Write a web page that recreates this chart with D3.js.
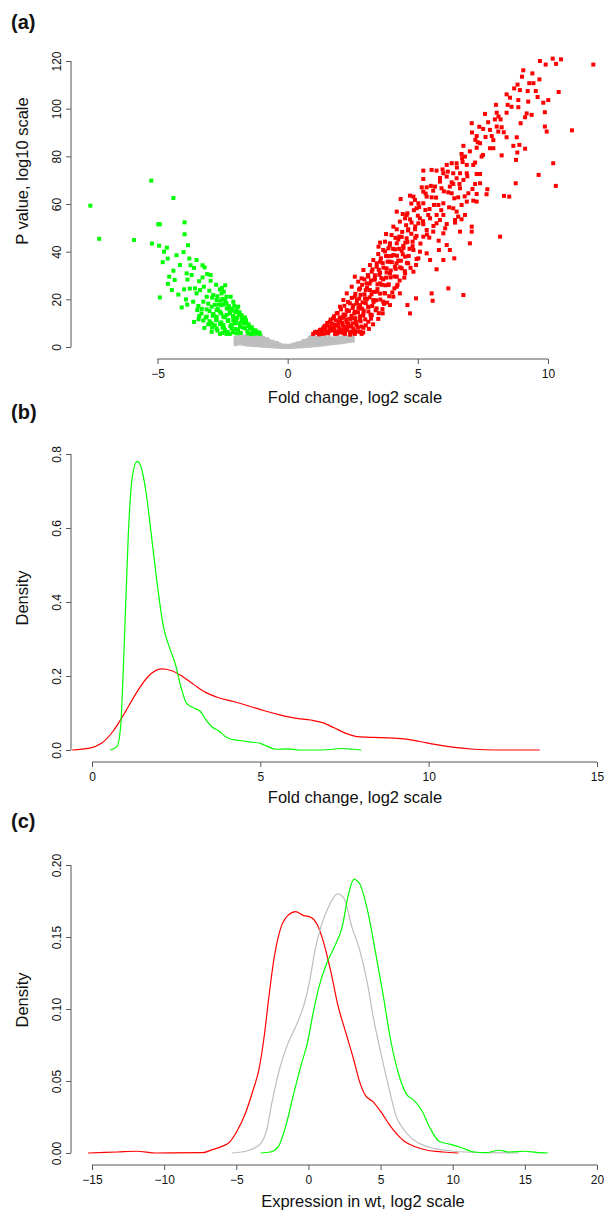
<!DOCTYPE html>
<html>
<head>
<meta charset="utf-8">
<script src="https://cdn.jsdelivr.net/npm/d3@7"></script>
<style>
  body { margin: 0; background: #fff; }
  svg text { font-family: "Liberation Sans", Arial, Helvetica, sans-serif; fill: #111; }
</style>
</head>
<body>
<div id="chart"></div>
<script>
// ---- panel (a): volcano plot, [log2 fold change, -log10 p] ----
const upPoints = [
  [11.74,118.5],[9.69,120.0],[9.91,118.5],[10.18,121],[10.31,118.8],[10.5,120.7],[9.05,116.1],[8.83,110.1],[8.92,107.8],
  [9.28,110.7],[9.44,110.7],[9.67,112.3],[9.22,107.4],[9.53,107.4],[10.41,107],[8.41,106],[8.54,104.6],[8.86,103.6],
  [9.24,102.96],[9.82,102.5],[10.01,103.6],[9.88,98.5],[8.0,101.6],[8.45,101.6],[8.86,100.6],[9.18,98],[9.12,96.4],
  [9.37,97.4],[7.58,97.8],[8.03,98.3],[8.41,98.3],[8.95,93.9],[7.96,95.5],[8.18,95.5],[7.07,93.9],[7.36,92.4],[7.51,91.5],
  [7.77,91.1],[8.22,92.2],[8.03,92.5],[7.08,90],[7.26,88.5],[7.84,88.5],[8.09,90.4],[9.88,92.5],[9.95,90.4],[10.92,90.9],
  [8.8,88],[8.41,88],[7.21,86.9],[7.39,85.5],[8.9,84.8],[8.67,84.4],[6.75,84.4],[7.26,83.6],[7.77,83.4],[7.9,83.4],
  [9.12,83.2],[8.82,81.6],[8.22,80.4],[6.68,81],[6.81,79.9],[7.45,79.9],[8.77,78.5],[10.2,77.1],[6.11,76.4],[6.3,77.1],
  [6.49,77.1],[6.72,77.6],[6.88,76.4],[7.13,76.4],[5.95,74.5],[5.21,74],[5.53,74.3],[5.72,74],[5.98,72.9],[6.36,72.9],
  [6.62,72.9],[6.88,72.9],[7.26,72.6],[7.39,72.6],[9.64,72.2],[6.11,71.5],[6.49,70.8],[6.75,70.1],[5.21,70.5],[5.85,69.4],
  [6.36,68.4],[7.2,68.4],[7.39,68.7],[8.76,68.7],[10.3,67.6],[5.15,67],[5.34,67],[5.66,67.3],[5.91,66.6],[6.23,67.3],
  [6.62,66.6],[7.67,66.2],[5.21,65.2],[5.59,65.6],[6.17,64.9],[6.3,64.5],[6.94,64.5],[7.26,64.2],[7.64,64.1],[8.31,63.4],
  [8.51,63.1],[4.7,63.5],[4.83,63.1],[5.34,63.1],[5.53,62.8],[4.34,62.1],[6.55,62.8],[4.89,61.7],[5.02,60.3],[5.21,60.3],
  [5.98,60.3],[6.88,61],[7.13,61.4],[7.26,61],[5.62,59.6],[5.79,59.6],[6.68,59.6],[4.95,58.2],[5.29,57.5],[6.36,58.2],
  [6.49,56.8],[4.19,56.8],[4.42,55.8],[4.57,55.4],[5.4,55.4],[5.72,55.4],[5.98,55.4],[6.81,55.4],[4.51,54],[5.08,54],
  [5.47,54],[5.85,53.3],[6.43,53.3],[6.68,53.6],[4.31,52.6],[4.76,52.2],[5.02,51.9],[5.21,51.5],[5.72,51.9],[6.11,51.6],
  [6.43,52.2],[7.07,50.5],[4.06,50.5],[4.19,49.4],[4.63,49.4],[4.89,49.4],[5.34,49.1],[5.59,48.4],[5.98,47.7],[6.62,48.4],
  [7.07,48.4],[3.78,47.4],[3.99,47],[4.29,46.3],[4.57,45.6],[4.95,46.6],[5.21,46.3],[5.44,45.9],[8.16,46.3],[3.55,43.8],
  [3.74,44.2],[3.93,43.5],[4.19,43.5],[4.44,42.4],[4.8,44.2],[6.11,42.8],[7.0,43.5],[3.49,42.1],[3.67,40.7],[3.87,41.4],
  [4.12,41],[4.38,40.4],[4.83,40.7],[5.08,40],[5.34,39.3],[5.81,40.7],[6.23,40.7],[3.48,39],[3.78,38.2],[3.99,38.2],
  [4.51,37.9],[5.02,37.2],[5.47,36.5],[5.98,36.5],[6.4,37.2],[3.29,36.5],[3.55,35.8],[3.93,35.8],[4.25,36.2],[4.63,35.1],
  [4.93,34.4],[3.16,34.4],[3.42,33.7],[3.8,33],[4.12,33.7],[4.38,33],[5.72,32.6],[2.91,32.3],[3.23,31.6],[3.55,31.2],
  [3.93,30.9],[4.19,29.5],[4.51,30.9],[4.83,31.6],[2.58,29.5],[2.84,28.8],[3.1,29.5],[3.35,28.8],[3.67,28.4],[2.71,27.4],
  [3.03,26.7],[3.55,26.7],[3.87,26],[4.19,25.3],[6.17,24.6],[2.46,25.3],[2.78,24.6],[3.16,23.9],[3.42,23.2],[3.74,22.5],
  [4.06,21.1],[4.31,22.5],[4.93,20.4],[5.53,22.5],[5.57,19.4],[6.75,21.8],[2.27,22.5],[2.58,21.1],[2.97,20.4],[3.29,19.7],
  [3.67,19],[3.93,17.6],[4.6,17.6],[2.14,19.7],[2.39,18.3],[2.78,17.6],[3.1,16.9],[3.42,16.2],[3.65,14.1],[4.7,14.1],
  [2.01,16.9],[2.27,15.5],[2.58,14.8],[2.91,14.1],[3.23,13.4],[1.88,14.1],[2.14,12.7],[2.46,12],[2.78,11.3],[3.1,10.6],
  [1.75,12],[2.01,10.6],[2.33,9.9],[2.65,9.2],[2.91,8.1],[1.62,10.6],[1.88,9.2],[2.2,8.5],[2.52,7.8],[2.78,6.4],[2.84,5.5],
  [1.5,9.2],[1.75,8.1],[2.07,7.1],[2.39,6.4],[1.37,8.1],[1.62,7.1],[1.94,6.4],[1.24,7.1],[1.5,6],[1.82,5.5],[2.2,5.5],
  [2.58,5.5],[0.98,5.5],[1.11,6.4],[1.3,5.5],
  [1.05,6.2],[1.2,5.3],[1.35,6.6],[1.45,7.5],[1.55,5.8],[1.6,8.6],[1.7,6.9],[1.7,9.8],[1.8,7.8],[1.85,11.2],[1.9,5.6],
  [1.95,8.9],[2.0,12.4],[2.05,6.1],[2.1,10.2],[2.15,13.6],[2.2,7.4],[2.25,11.6],[2.3,15.1],[2.35,8.6],[2.4,5.2],[2.45,13.1],
  [2.5,16.4],[2.5,9.9],[2.55,6.9],[2.6,12.1],[2.65,18.2],[2.7,14.6],[2.7,8.2],[2.75,20.3],[2.8,10.8],[2.85,16.1],[2.9,6.1],
  [2.9,13.2],[2.95,22.1],[3.0,18.4],[3.0,9.1],[3.05,24.9],[3.1,14.9],[3.15,20.8],[3.2,11.9],[3.2,27.9],[3.25,17.2],
  [3.3,23.1],[3.35,30.1],[3.4,19.6],[3.45,26.3],[3.5,14.2],[3.5,32.4],[3.55,22.4],[3.6,28.9],[3.65,35.2],[3.7,18.1],
  [3.75,25.9],[3.8,31.3],[3.85,38.1],[3.9,21.3],[3.95,29.2],[4.0,35.6],[4.05,41.2],[4.1,24.6],[4.15,32.8],[4.2,38.3],
  [4.25,45.1],[4.3,27.9],[4.35,36.2],[4.4,48.3],[4.45,41.6],[4.5,31.8],[4.55,51.1],[4.6,44.1],[4.65,38.2],[4.7,53.6],
  [4.75,47.5],[4.8,42.3],[4.85,57.4],[4.9,50.6],[4.95,36.9],[5.0,55.1],
  [1.15,5.9],[1.28,7.3],[1.42,8.8],[1.4,5.6],[1.52,10.1],[1.58,6.5],[1.65,11.5],[1.68,7.9],[1.78,12.9],[1.8,9.3],[1.83,6.3],
  [1.92,14.3],[1.95,10.8],[1.98,7.6],[2.05,15.8],[2.08,12.1],[2.12,8.9],[2.15,5.9],[2.18,17.3],[2.22,13.5],[2.26,10.4],
  [2.28,7.1],[2.32,18.9],[2.36,15.2],[2.4,11.8],[2.44,8.7],[2.46,20.6],[2.5,6.1],[2.52,17.5],[2.56,14.1],[2.6,22.3],
  [2.62,10.5],[2.66,19.6],[2.68,6.5],[2.72,16.4],[2.74,24.1],[2.78,12.9],[2.8,21.9],[2.84,8.6],[2.86,26.1],[2.88,18.7],
  [2.92,15.3],[2.95,28.4],[2.98,11.6],[3.0,23.9],[3.04,20.1],[3.08,30.2],[3.1,16.8],[3.12,7.6],[3.15,26.6],[3.18,13.6],
  [3.22,22.1],[3.26,32.6],[3.28,9.5],[3.3,18.9],[3.34,28.2],[3.38,15.4],[3.42,35.1],[3.45,24.3],[3.48,11.8],[3.52,30.3],
  [3.56,19.9],[3.58,37.2],[3.62,26.1],[3.64,15.9],[3.68,33.3],[3.72,22.6],[3.74,40.1],[3.78,29.1],[3.82,18.6],[3.84,35.8],
  [3.88,26.3],[3.92,42.6],[3.96,32.1],[4.02,22.9],[4.06,38.6],[4.1,29.6],[4.14,45.8],[4.18,35.1],[4.22,26.1],[4.28,41.2],
  [4.32,33.4],[4.38,46.2],[4.42,38.9],[4.48,29.1],[4.52,43.8],[4.58,35.3],[4.62,48.9],[4.68,41.2],[4.72,33.2],
  [4.6,56.1],[4.75,60.2],[4.9,45.8],[5.05,58.7],[5.1,43.4],[5.2,52.8],[5.3,64.4],[5.35,47.2],[5.45,57.9],[5.5,67.6],
  [5.6,50.8],[5.7,62.7],[5.8,44.6],[5.85,70.9],[5.9,57.4],[6.0,65.3],[6.05,49.8],[6.15,73.6],[6.2,58.6],[6.3,69.1],
  [6.4,62.4],[6.5,75.3],[6.55,54.7],[6.6,68.4],[6.7,79.2],[6.8,63.2],[6.9,71.6],[7.0,82.1],[7.1,66.3],[7.2,77.4],
  [7.3,85.9],[7.5,80.6],[7.6,88.1],[7.7,94.3],[7.9,86.8],[8.1,96.7],[8.3,90.1],[8.6,100.8],[8.7,108.5],[9.0,113.4],
  [9.4,114.8],[9.6,104.9]
]
const downPoints = [
  [-7.58,59.3],[-7.24,45.4],[-5.9,44.9],[-5.24,69.8],[-4.39,62.5],[-4.97,51.5],[-4.91,51.5],[-3.96,52.3],[-3.96,47.3],
  [-5.21,43.4],[-4.94,42.5],[-4.64,41.7],[-4.75,40],[-4.61,37.1],[-3.83,42.7],[-4.27,38.5],[-4.14,34.4],[-3.78,37.1],
  [-3.73,34.3],[-3.5,36.5],[-3.27,34.3],[-3.19,33.4],[-4.39,32],[-4.55,29.5],[-4.34,28.1],[-3.88,30.9],[-3.69,30.2],
  [-3.09,30.6],[-2.96,30.2],[-4.45,23.9],[-3.98,24.2],[-3.76,24.5],[-3.56,24.6],[-3.27,29.2],[-2.96,27.8],[-4.91,20.8],
  [-4.07,16.6],[-3.91,20],[-3.86,17.8],[-3.5,22.5],[-3.37,23.9],[-3.22,25.3],[-3.01,23.6],[-2.6,24.2],[-2.52,24.8],
  [-2.4,25.9],[-2.19,21.1],[-3.63,19],[-3.43,17.2],[-3.24,19],[-3.11,21.1],[-2.86,21.8],[-2.73,19.7],[-2.54,22.5],
  [-2.35,21.1],[-3.47,15.5],[-3.31,14.1],[-3.11,15.8],[-2.92,16.9],[-2.73,15.5],[-2.54,17.6],[-2.35,18.3],[-2.09,19],
  [-1.9,16.9],[-3.42,11.6],[-3.24,11.1],[-2.92,9.9],[-2.73,11.3],[-2.47,12.7],[-2.22,14.1],[-1.96,15.5],[-1.77,13.4],
  [-1.64,12.4],[-2.92,6.4],[-2.73,7.8],[-2.6,5.5],[-2.41,7.1],[-2.35,5.5],[-2.15,7.8],[-2.02,9.9],[-1.83,8.5],[-1.58,9.9],
  [-1.45,7.8],[-1.32,6.4],[-1.19,5.7],[-1.07,5.5],[-1.51,5.7],[-1.96,5.7],[-2.22,5.5],[-2.73,12.7],[-3.11,12.7],[-2.6,14.8],
  [-2.28,16.2],[-2.09,11.3],[-1.77,11.3],[-2.28,11.3],[-2.47,9.2],[-1.64,7.8],
  [-2.05,17.4],[-1.85,14.6],[-2.15,15.2],[-2.4,19.6],[-2.65,17.8],[-2.85,13.8],[-2.55,10.3],[-2.2,8.8],[-1.95,12.3],
  [-1.7,10.1],[-1.5,8.7],[-1.35,7.2],[-1.2,6.5],[-1.4,5.4],[-1.9,7.0],[-2.1,6.2],[-2.5,8.2],[-2.8,9.1],[-3.0,10.8],
  [-2.35,13.4],[-2.0,10.6],[-1.6,11.2],[-3.05,18.2],[-2.9,20.7],
  [-1.1,6.1],[-1.25,7.0],[-1.38,8.3],[-1.5,9.5],[-1.62,10.8],[-1.75,12.0],[-1.88,13.3],[-2.0,14.6],[-2.12,16.0],[-2.25,17.1],
  [-2.38,18.3],[-2.5,20.2],[-1.3,5.6],[-1.55,6.6],[-1.7,8.2],[-1.85,9.9],[-1.98,11.5],[-2.1,13.0],[-2.22,14.6],[-2.34,16.2],
  [-2.46,17.9],[-2.58,19.5],[-2.7,21.3],[-1.8,5.9],[-2.0,7.6],[-2.15,9.4],[-2.3,10.9],[-2.42,12.5],[-2.55,14.1],[-2.68,15.9],
  [-2.8,17.7],[-2.3,6.3],[-2.45,8.0],[-2.6,9.7],[-2.75,11.4],[-2.88,13.1],[-3.0,15.0],[-2.5,5.9],[-2.7,6.9],[-2.9,8.2],
  [-3.05,9.5],[-3.15,12.4],[-3.3,16.0],[-3.4,13.0],[-3.6,10.5],[-3.2,8.0],[-2.45,23.2],[-2.75,26.1],[-3.4,27.6],[-3.6,33.2],
  [-4.0,39.8],[-3.85,28.3],[-4.2,22.0],[-4.6,26.5],[-4.8,35.6]
]
const nsPoints = [
  [-2.0,1.2],[-2.0,2.5],[-2.0,3.8],[-1.85,1.5],[-1.85,3.0],[-1.85,4.3],[-1.7,1.3],[-1.7,2.8],[-1.7,4.2],[-1.55,1.0],
  [-1.55,2.4],[-1.55,3.9],[-1.4,0.9],[-1.4,2.2],[-1.4,3.6],[-1.4,4.6],[-1.25,0.8],[-1.25,2.0],[-1.25,3.3],[-1.25,4.5],
  [-1.1,0.7],[-1.1,1.8],[-1.1,3.0],[-1.1,4.3],[-0.95,0.5],[-0.95,1.6],[-0.95,2.7],[-0.95,3.8],[-0.8,0.4],[-0.8,1.4],
  [-0.8,2.4],[-0.8,3.3],[-0.65,0.3],[-0.65,1.1],[-0.65,2.0],[-0.5,0.2],[-0.5,0.9],[-0.5,1.6],[-0.35,0.1],[-0.35,0.6],
  [-0.35,1.1],[-0.2,0.0],[-0.2,0.4],[-0.05,0.0],[-0.05,0.3],[0.1,0.0],[0.1,0.4],[0.25,0.1],[0.25,0.6],[0.25,1.0],
  [0.4,0.2],[0.4,0.8],[0.4,1.5],[0.55,0.3],[0.55,1.1],[0.55,1.9],[0.7,0.4],[0.7,1.3],[0.7,2.3],[0.85,0.5],[0.85,1.6],
  [0.85,2.8],[0.85,3.8],[1.0,0.7],[1.0,1.8],[1.0,3.1],[1.0,4.3],[1.15,0.8],[1.15,2.0],[1.15,3.4],[1.3,1.0],[1.3,2.2],
  [1.3,3.6],[1.45,1.2],[1.45,2.5],[1.45,3.9],[1.6,1.4],[1.6,2.8],[1.6,4.1],[1.75,1.6],[1.75,3.0],[1.9,1.8],[1.9,3.2],
  [2.05,2.0],[2.05,3.4],[2.2,2.2],[2.2,3.6],[2.35,2.5],[2.35,3.8],[2.5,2.7],[2.5,3.9],
  [-1.92,1.9],[-1.92,3.2],[-1.78,2.1],[-1.78,3.6],[-1.62,1.8],[-1.62,3.3],[-1.62,4.5],[-1.48,1.6],[-1.48,2.9],[-1.48,4.2],
  [-1.32,1.4],[-1.32,2.7],[-1.32,4.0],[-1.18,1.2],[-1.18,2.4],[-1.18,3.7],[-1.02,1.1],[-1.02,2.2],[-1.02,3.3],[-1.02,4.5],
  [-0.88,1.0],[-0.88,2.0],[-0.88,3.0],[-0.72,0.8],[-0.72,1.7],[-0.72,2.6],[-0.58,0.6],[-0.58,1.4],[-0.58,2.2],[-0.42,0.4],
  [-0.42,1.0],[-0.42,1.7],[-0.28,0.3],[-0.28,0.8],[-0.12,0.2],[-0.12,0.6],[0.02,0.1],[0.02,0.5],[0.17,0.3],[0.17,0.7],
  [0.32,0.4],[0.32,1.2],[0.47,0.6],[0.47,1.5],[0.62,0.7],[0.62,1.6],[0.62,2.5],[0.77,0.9],[0.77,1.9],[0.77,2.9],[0.92,1.1],
  [0.92,2.2],[0.92,3.3],[0.92,4.4],[1.07,1.3],[1.07,2.5],[1.07,3.7],[1.22,1.4],[1.22,2.7],[1.22,4.0],[1.37,1.6],[1.37,2.9],
  [1.37,4.2],[1.52,1.8],[1.52,3.2],[1.67,2.0],[1.67,3.5],[1.82,2.2],[1.82,3.7],[1.97,2.4],[1.97,3.9],[2.12,2.6],[2.12,4.0],
  [2.27,2.8],[2.27,4.1],[2.42,3.0],[2.42,4.2]
]
const aXTicks = [-5, 0, 5, 10]
const aYTicks = [0, 20, 40, 60, 80, 100, 120]

// ---- panel (b): density of |fold change| ----
const bDown = [[0.54,0],[0.74,0.009],[0.85,0.063],[0.97,0.316],[1.08,0.586],[1.2,0.74],[1.34,0.78],[1.45,0.767],[1.6,0.70],
  [1.78,0.568],[1.95,0.44],[2.12,0.334],[2.29,0.28],[2.47,0.234],[2.64,0.171],[2.81,0.126],[3.04,0.113],[3.22,0.104],
  [3.39,0.081],[3.56,0.063],[3.79,0.05],[3.97,0.036],[4.14,0.029],[4.43,0.025],[4.77,0.021],[5.0,0.018],[5.23,0.009],
  [5.46,0.002],[5.81,0.003],[6.16,0.0],[6.85,0],[7.42,0.004],[7.77,0.002],[8.0,0]]
const bUp = [[-0.59,0],[-0.07,0.005],[0.28,0.018],[0.62,0.05],[0.97,0.1],[1.31,0.153],[1.66,0.198],[2.06,0.219],[2.35,0.215],
  [2.70,0.198],[3.04,0.176],[3.39,0.155],[3.74,0.142],[4.2,0.131],[4.66,0.119],[5.12,0.106],[5.58,0.095],[6.04,0.086],
  [6.5,0.081],[6.85,0.074],[7.19,0.06],[7.54,0.045],[7.89,0.036],[8.35,0.034],[8.81,0.033],[9.27,0.03],[9.73,0.023],
  [10.19,0.015],[10.77,0.007],[11.34,0.002],[12.04,0],[13.3,0]]
const bXTicks = [0, 5, 10, 15]
const bYTicks = [0.0, 0.2, 0.4, 0.6, 0.8]

// ---- panel (c): density of expression in wt ----
const cUp = [[-15.27,0],[-13.25,0.0007],[-11.9,0.0012],[-10.56,0],[-7.34,0.0002],[-6.67,0.0023],[-6.0,0.0046],[-5.46,0.0076],
  [-4.92,0.0158],[-4.38,0.0273],[-3.84,0.0436],[-3.44,0.0575],[-3.04,0.083],[-2.77,0.106],[-2.37,0.136],[-1.96,0.155],
  [-1.42,0.165],[-0.89,0.1676],[-0.35,0.165],[0.19,0.1636],[0.59,0.159],[1.0,0.148],[1.53,0.127],[2.07,0.1015],[2.61,0.083],
  [3.15,0.0644],[3.55,0.0494],[3.95,0.040],[4.49,0.0355],[5.03,0.0285],[5.56,0.0204],[6.1,0.0134],[6.64,0.0081],
  [7.45,0.0042],[8.25,0.0019],[9.33,0.0007],[10.4,0]]
const cNs = [[-5.32,0],[-4.65,0.0007],[-3.84,0.003],[-3.31,0.0065],[-2.9,0.0158],[-2.5,0.0366],[-1.96,0.0598],[-1.42,0.076],
  [-0.89,0.0876],[-0.35,0.1015],[0.05,0.1177],[0.46,0.141],[0.86,0.157],[1.4,0.171],[2.02,0.180],[2.47,0.1768],[3.01,0.157],
  [3.55,0.141],[4.09,0.1177],[4.49,0.0946],[5.03,0.069],[5.56,0.0459],[6.1,0.025],[6.64,0.0158],[7.18,0.01],[7.98,0.0053],
  [8.79,0.003],[9.87,0.0014],[10.94,0.0007],[12.28,0.0002],[14.57,0]]
const cDown = [[-3.31,0],[-2.63,0.0007],[-2.1,0.0042],[-1.56,0.0192],[-1.02,0.0412],[-0.48,0.0621],[-0.08,0.076],[0.32,0.0969],
  [0.73,0.1154],[1.26,0.1316],[1.8,0.1432],[2.34,0.157],[2.74,0.178],[3.15,0.190],[3.55,0.187],[4.09,0.1687],[4.62,0.141],
  [5.16,0.1108],[5.7,0.0783],[6.24,0.0552],[6.77,0.0412],[7.31,0.0366],[7.85,0.0297],[8.39,0.0181],[9.06,0.0081],
  [9.87,0.006],[10.67,0.0035],[11.48,0.0007],[12.28,0.0002],[13.23,0.0019],[13.9,0.0007],[14.97,0.0012],[15.78,0.0005],[16.59,0]]
const cXTicks = [-15, -10, -5, 0, 5, 10, 15, 20]
const cYTicks = [0.00, 0.05, 0.10, 0.15, 0.20]

const RED = "#ff0000", GREEN = "#00ff00", GREY = "#bebebe", AXIS = "#555"

const svg = d3.select("#chart").append("svg")
  .attr("width", 605)
  .attr("height", 1210)

// draws both axes of one panel, R style (rotated y labels, axis line only to the end ticks)
const drawAxes = function(x, y, xTicks, yTicks, yFmt, xAxisY, yAxisX, opts) {
  const gx = svg.append("g")
    .attr("transform", "translate(0," + xAxisY + ")")
    .call(d3.axisBottom(x).tickValues(xTicks).tickSize(5).tickSizeOuter(0).tickPadding(5))
  gx.select(".domain").attr("d", "M" + x(xTicks[0]) + ",0H" + x(xTicks[xTicks.length - 1]))

  const gy = svg.append("g")
    .attr("transform", "translate(" + yAxisX + ",0)")
    .call(d3.axisLeft(y).tickValues(yTicks).tickFormat(yFmt).tickSize(5).tickSizeOuter(0))
  gy.select(".domain").attr("d", "M0," + y(yTicks[0]) + "V" + y(yTicks[yTicks.length - 1]))
  gy.selectAll(".tick text")
    .attr("x", null).attr("dy", null)
    .attr("text-anchor", "middle")
    .attr("transform", "translate(-10,0) rotate(-90)")

  svg.selectAll(".domain, .tick line").attr("stroke", AXIS)
  svg.selectAll(".tick text").attr("font-size", 12).attr("fill", "#111")
    .attr("font-family", "'Liberation Sans', Arial, sans-serif")

  svg.append("text").text(opts.xTitle)
    .attr("x", opts.xTitleX).attr("y", opts.xTitleY)
    .attr("text-anchor", "middle").attr("font-size", 16.5)
  svg.append("text").text(opts.yTitle)
    .attr("text-anchor", "middle").attr("font-size", 16.5)
    .attr("transform", "translate(28," + opts.yTitleY + ") rotate(-90)")
  svg.append("text").text(opts.tag)
    .attr("x", 11).attr("y", opts.tagY)
    .attr("font-size", 20).attr("font-weight", "bold")
}

// Panel (a)
const ax = d3.scaleLinear().domain([-5, 10]).range([157.5, 548])
const ay = d3.scaleLinear().domain([0, 120]).range([347, 61])
const sq = 4

const plotSquares = function(data, colour) {
  svg.append("g").selectAll("rect")
    .data(data).enter()
    .append("rect")
      .attr("x", d => ax(d[0]) - sq / 2)
      .attr("y", d => ay(d[1]) - sq / 2)
      .attr("width", sq)
      .attr("height", sq)
      .attr("fill", colour)
}
plotSquares(nsPoints, GREY)
plotSquares(downPoints, GREEN)
plotSquares(upPoints, RED)

drawAxes(ax, ay, aXTicks, aYTicks, d3.format("d"), 359, 71, {
  xTitle: "Fold change, log2 scale", xTitleX: 355, xTitleY: 403,
  yTitle: "P value, log10 scale", yTitleY: 171, tag: "(a)", tagY: 29
})

// Panel (b)
const bx = d3.scaleLinear().domain([0, 15]).range([92, 597])
const by = d3.scaleLinear().domain([0, 0.8]).range([750, 454])
const bLine = d3.line().x(d => bx(d[0])).y(d => by(d[1])).curve(d3.curveMonotoneX)

svg.append("path").datum(bUp).attr("d", bLine)
  .attr("fill", "none").attr("stroke", RED).attr("stroke-width", 1.2)
svg.append("path").datum(bDown).attr("d", bLine)
  .attr("fill", "none").attr("stroke", GREEN).attr("stroke-width", 1.2)

drawAxes(bx, by, bXTicks, bYTicks, d3.format(".1f"), 762, 71, {
  xTitle: "Fold change, log2 scale", xTitleX: 355, xTitleY: 803,
  yTitle: "Density", yTitleY: 598, tag: "(b)", tagY: 419
})

// Panel (c)
const cx = d3.scaleLinear().domain([-15, 20]).range([92, 597])
const cy = d3.scaleLinear().domain([0, 0.2]).range([1153, 865])
const cLine = d3.line().x(d => cx(d[0])).y(d => cy(d[1])).curve(d3.curveMonotoneX)

;[[cUp, RED], [cNs, GREY], [cDown, GREEN]].forEach(([data, colour]) => {
  svg.append("path").datum(data).attr("d", cLine)
    .attr("fill", "none").attr("stroke", colour).attr("stroke-width", 1.2)
})

drawAxes(cx, cy, cXTicks, cYTicks, d3.format(".2f"), 1165, 71, {
  xTitle: "Expression in wt, log2 scale", xTitleX: 363, xTitleY: 1207,
  yTitle: "Density", yTitleY: 1000, tag: "(c)", tagY: 828
})
</script>
</body>
</html>
